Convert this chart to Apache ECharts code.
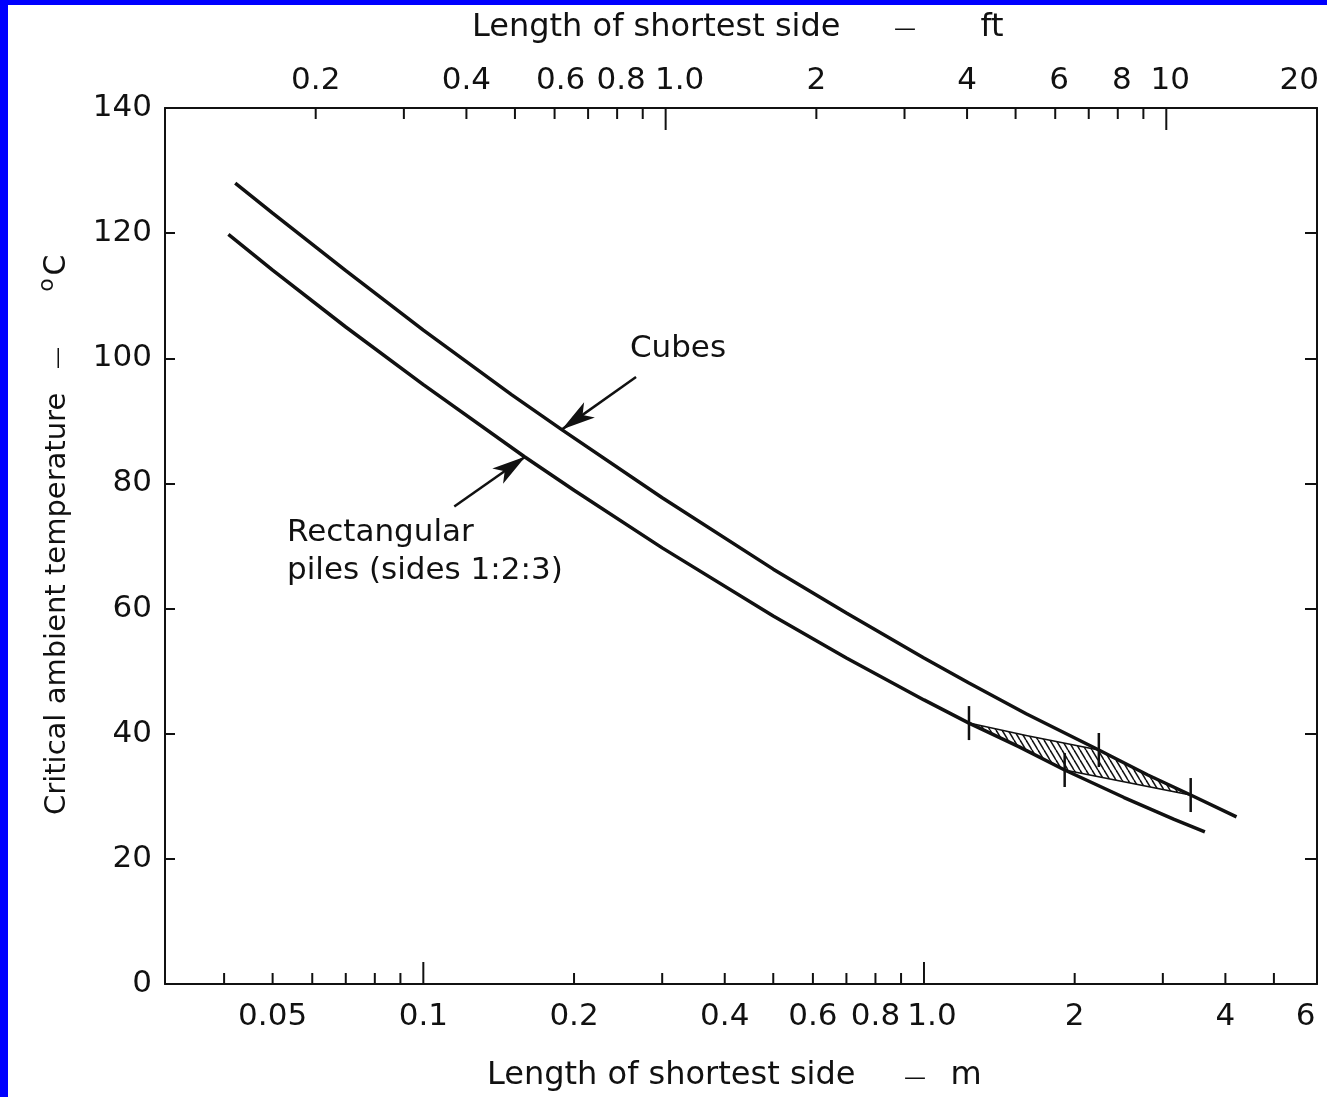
<!DOCTYPE html>
<html><head><meta charset="utf-8">
<script src="https://cdn.jsdelivr.net/npm/echarts@6/dist/echarts.min.js"></script>
<style>html,body{margin:0;padding:0;background:#fff;overflow:hidden;} #c{width:1327px;height:1097px;}</style>
</head><body><div id="c"></div>
<script>
// ---- data (length of shortest side in metres, temperature in °C) ----
const cubesX = [0.0421, 0.05, 0.07, 0.1, 0.15, 0.189, 0.3, 0.5, 0.7, 1.0, 1.23, 1.6, 2.235, 2.8, 3.41, 4.21];
const cubesT = [128, 123.2, 114.0, 104.5, 94.2, 88.6, 77.7, 66.3, 59.3, 52.1, 48.1, 43.2, 37.4, 33.4, 30.2, 26.7];
const rectX = [0.0408, 0.05, 0.07, 0.1, 0.159, 0.2, 0.3, 0.5, 0.7, 1.0, 1.23, 1.55, 1.91, 2.51, 3.16, 3.64];
const rectT = [119.8, 114.1, 105.0, 95.8, 84.3, 78.9, 69.7, 58.8, 52.1, 45.4, 41.7, 37.9, 34.2, 29.8, 26.3, 24.3];
// hatched zone outline
const hatchX = [1.23, 1.6, 2.235, 2.8, 3.41, 1.91, 1.55];
const hatchT = [41.7, 39.7, 37.4, 33.4, 30.2, 34.2, 37.9];
// vertical cross marks at the zone corners
const markX = [1.23, 2.235, 1.91, 3.41];
const markT = [41.7, 37.4, 34.2, 30.2];
// axes
const mMin = 0.03048, mMax = 6.096;       // metres
const ftMin = 0.1, ftMax = 20;            // feet
const bottomTicks = [0.04,0.05,0.06,0.07,0.08,0.09,0.1,0.2,0.3,0.4,0.5,0.6,0.7,0.8,0.9,1,2,3,4,5];
const bottomMajor = [0.1, 1];
const bottomLabelVals = [0.05,0.1,0.2,0.4,0.6,0.8,1.0,2,4,6];
const bottomLabelText = ['0.05','0.1','0.2','0.4','0.6','0.8','1.0','2','4','6'];
const topTicks = [0.2,0.3,0.4,0.5,0.6,0.7,0.8,0.9,1,2,3,4,5,6,7,8,9,10];
const topMajor = [1, 10];
const topLabelVals = [0.2,0.4,0.6,0.8,1.0,2,4,6,8,10,20];
const topLabelText = ['0.2','0.4','0.6','0.8','1.0','2','4','6','8','10','20'];
// annotation arrows [tail, tip] in data units (m, °C)
const cubesArrow = [[0.266, 97.0], [0.189, 88.6]];
const rectArrow = [[0.1153, 76.3], [0.160, 84.3]];

// style: small horizontal nudges of crowded tick labels (px), by label index
const bottomNudge = { 6: 8 };
const topNudge = { 2: 6, 3: 4, 4: 14, 7: 4, 8: 4, 9: 4 };

const FONT = '"DejaVu Sans", sans-serif';
const INK = '#111';

function hatchPattern() {
  const c = document.createElement('canvas');
  c.width = 6; c.height = 10;
  const g = c.getContext('2d');
  g.strokeStyle = '#111'; g.lineWidth = 1.5;
  for (const dx of [-6, 0, 6]) {
    g.beginPath(); g.moveTo(dx, 0); g.lineTo(dx + 6, 10); g.stroke();
  }
  return c;
}
const pattern = { image: hatchPattern(), repeat: 'repeat' };

const chart = echarts.init(document.getElementById('c'), null, { renderer: 'canvas' });

function tickSeries(ticks, major, xIdx, yVal, name) {
  return {
    type: 'custom', name, xAxisIndex: xIdx, yAxisIndex: 0, silent: true, z: 5,
    data: ticks.map(v => [v, yVal]),
    renderItem: (params, api) => {
      const v = api.value(0);
      const p = api.coord([v, yVal]);
      const len = major.indexOf(v) >= 0 ? 22 : 11;
      const dir = yVal === 0 ? -1 : 1;
      return { type: 'line', shape: { x1: p[0], y1: p[1], x2: p[0], y2: p[1] + dir * len },
               style: { stroke: INK, lineWidth: 2 } };
    }
  };
}
function labelSeries(vals, texts, nudge, xIdx, yVal, dy, name) {
  return {
    type: 'custom', name, xAxisIndex: xIdx, yAxisIndex: 0, silent: true, z: 5,
    data: vals.map(v => [v, yVal]),
    renderItem: (params, api) => {
      const i = params.dataIndex;
      const p = api.coord([api.value(0), yVal]);
      const last = i === vals.length - 1;
      const x = last ? p[0] + 2 : p[0] + (nudge[i] || 0);
      return { type: 'text', x: x, y: p[1] + dy,
               style: { text: texts[i], fill: INK, font: '31px ' + FONT,
                        align: last ? 'right' : 'center', textAlign: last ? 'right' : 'center',
                        verticalAlign: 'middle', textVerticalAlign: 'middle' } };
    }
  };
}
function arrowLine(a) {
  return [{ coord: a[0], symbol: 'none' }, { coord: a[1], symbol: 'arrow' }];
}
function txt(x, y, s, size, align, rot) {
  const o = { type: 'text', x: x, y: y,
    style: { text: s, font: size + 'px ' + FONT, fill: INK, align: align, textAlign: align,
             verticalAlign: 'middle', textVerticalAlign: 'middle' } };
  if (rot) o.rotation = rot;
  return o;
}

const option = {
  backgroundColor: '#fff',
  animation: false,
  grid: { left: 165, right: 10, top: 108, bottom: 113, containLabel: false },
  xAxis: [
    { type: 'log', logBase: 10, min: mMin, max: mMax, position: 'bottom',
      axisLine: { show: true, onZero: false, lineStyle: { color: INK, width: 2 } },
      axisTick: { show: false }, axisLabel: { show: false }, splitLine: { show: false }, minorTick: { show: false } },
    { type: 'log', logBase: 10, min: ftMin, max: ftMax, position: 'top',
      axisLine: { show: true, onZero: false, lineStyle: { color: INK, width: 2 } },
      axisTick: { show: false }, axisLabel: { show: false }, splitLine: { show: false } }
  ],
  yAxis: [
    { type: 'value', min: 0, max: 140, interval: 20, position: 'left',
      axisLine: { show: true, lineStyle: { color: INK, width: 2 } },
      axisTick: { show: true, inside: true, length: 10, lineStyle: { color: INK, width: 2 } },
      axisLabel: { show: true, margin: 13, color: INK, fontSize: 31, fontFamily: FONT },
      splitLine: { show: false } },
    { type: 'value', min: 0, max: 140, interval: 20, position: 'right',
      axisLine: { show: true, lineStyle: { color: INK, width: 2 } },
      axisTick: { show: true, inside: true, length: 12, lineStyle: { color: INK, width: 2 } },
      axisLabel: { show: false }, splitLine: { show: false } }
  ],
  series: [
    { type: 'custom', name: 'hatch', xAxisIndex: 0, yAxisIndex: 0, silent: true, z: 2,
      data: [[hatchX[0], hatchT[0]]],
      renderItem: (params, api) => ({
        type: 'polygon',
        shape: { points: hatchX.map((x, i) => api.coord([x, hatchT[i]])) },
        style: { fill: pattern, stroke: INK, lineWidth: 1.5 }
      }) },
    { type: 'line', name: 'Cubes', data: cubesX.map((x, i) => [x, cubesT[i]]),
      showSymbol: false, smooth: false, z: 3,
      lineStyle: { color: INK, width: 3.5 },
      markLine: { silent: true, symbolSize: [14, 34], label: { show: false },
        lineStyle: { color: INK, width: 2.5, type: 'solid' }, data: [arrowLine(cubesArrow)] } },
    { type: 'line', name: 'Rectangular piles', data: rectX.map((x, i) => [x, rectT[i]]),
      showSymbol: false, smooth: false, z: 3,
      lineStyle: { color: INK, width: 3.5 },
      markLine: { silent: true, symbolSize: [14, 34], label: { show: false },
        lineStyle: { color: INK, width: 2.5, type: 'solid' }, data: [arrowLine(rectArrow)] } },
    { type: 'custom', name: 'marks', xAxisIndex: 0, yAxisIndex: 0, silent: true, z: 4,
      data: markX.map((x, i) => [x, markT[i]]),
      renderItem: (params, api) => {
        const p = api.coord([api.value(0), api.value(1)]);
        return { type: 'line', shape: { x1: p[0], y1: p[1] - 17, x2: p[0], y2: p[1] + 17 },
                 style: { stroke: INK, lineWidth: 2.5 } };
      } },
    tickSeries(bottomTicks, bottomMajor, 0, 0, 'bticks'),
    tickSeries(topTicks, topMajor, 1, 140, 'tticks'),
    labelSeries(bottomLabelVals, bottomLabelText, bottomNudge, 0, 0, 33, 'blabels'),
    labelSeries(topLabelVals, topLabelText, topNudge, 1, 140, -27, 'tlabels')
  ],
  graphic: [
    { type: 'rect', shape: { x: 0, y: 0, width: 8, height: 1097 }, style: { fill: '#0000ff' } },
    { type: 'rect', shape: { x: 0, y: 0, width: 1327, height: 5 }, style: { fill: '#0000ff' } },
    txt(472, 28, 'Length of shortest side', 32, 'left'),
    txt(905, 29, '—', 22, 'center'),
    txt(992, 28, 'ft', 32, 'center'),
    txt(487, 1076, 'Length of shortest side', 32, 'left'),
    txt(915, 1078, '—', 22, 'center'),
    txt(966, 1076, 'm', 32, 'center'),
    txt(57, 815, 'Critical ambient temperature', 29, 'left', Math.PI / 2),
    txt(58, 358, '—', 22, 'center', Math.PI / 2),
    txt(47, 285, 'o', 22, 'center', Math.PI / 2),
    txt(57, 265, 'C', 30, 'center', Math.PI / 2),
    txt(678, 349, 'Cubes', 31, 'center'),
    txt(287, 533, 'Rectangular', 31, 'left'),
    txt(287, 571, 'piles (sides 1:2:3)', 31, 'left')
  ]
};
chart.setOption(option);
</script>
</body></html>
